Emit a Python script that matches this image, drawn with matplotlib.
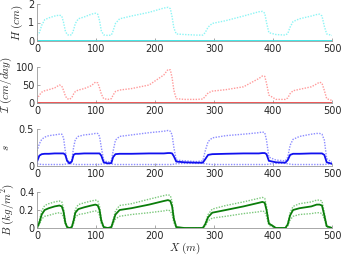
import matplotlib
matplotlib.use("Agg")
import matplotlib.pyplot as plt
import numpy as np

plt.rcParams["mathtext.fontset"] = "cm"

# Positions along the slope (m), shared by all profiles
x = [0, 4, 8, 13, 20, 30, 38, 42, 45, 48,
     51, 55, 59, 62, 65, 70, 80, 92, 99, 103,
     106, 109, 113, 120, 126, 129, 133, 140, 160, 190,
     215, 222, 226, 229, 232, 236, 250, 270, 281, 285,
     290, 297, 320, 350, 376, 382, 386, 389, 393, 405,
     421, 425, 429, 434, 445, 465, 474, 479, 483, 487,
     491, 500]

# Surface water height H (cm): max and min
H_max = [0.30, 0.45, 0.85, 1.15, 1.25, 1.35, 1.40, 1.35, 1.00, 0.55,
         0.35, 0.30, 0.35, 0.60, 0.95, 1.20, 1.30, 1.45, 1.50, 1.45,
         1.10, 0.55, 0.33, 0.30, 0.32, 0.55, 0.95, 1.20, 1.35, 1.55,
         1.78, 1.82, 1.75, 1.30, 0.70, 0.38, 0.35, 0.32, 0.32, 0.45,
         0.75, 0.95, 1.10, 1.35, 1.58, 1.60, 1.50, 1.00, 0.45, 0.35,
         0.32, 0.40, 0.75, 1.05, 1.20, 1.35, 1.43, 1.45, 1.35, 0.80,
         0.38, 0.30]
H_lo_x = [0, 500]
H_lo = [0.02, 0.02]

# Infiltration I (cm/day)
I_max = [10, 22, 30, 34, 37, 42, 50, 47, 35, 20,
         12, 10, 15, 25, 32, 36, 40, 48, 58, 56,
         42, 25, 12, 10, 12, 22, 32, 36, 40, 50,
         78, 93, 92, 70, 35, 12, 10, 10, 11, 18,
         28, 33, 37, 45, 68, 75, 74, 55, 22, 10,
         10, 14, 26, 34, 38, 45, 53, 58, 55, 35,
         12, 7]
I_lo_x = [0, 500]
I_lo = [1.0, 1.0]

# Soil moisture s: upper, mean, lower
s_max = [0.20, 0.30, 0.36, 0.39, 0.41, 0.42, 0.43, 0.43, 0.38, 0.20,
         0.08, 0.05, 0.08, 0.25, 0.36, 0.40, 0.42, 0.43, 0.44, 0.44,
         0.40, 0.25, 0.08, 0.05, 0.07, 0.20, 0.35, 0.40, 0.42, 0.45,
         0.47, 0.48, 0.47, 0.42, 0.25, 0.08, 0.07, 0.06, 0.07, 0.20,
         0.33, 0.38, 0.41, 0.43, 0.45, 0.46, 0.45, 0.35, 0.12, 0.08,
         0.07, 0.12, 0.28, 0.36, 0.40, 0.43, 0.44, 0.44, 0.43, 0.35,
         0.10, 0.05]
s_mean = [0.06, 0.14, 0.16, 0.165, 0.165, 0.17, 0.17, 0.17, 0.17, 0.15,
          0.07, 0.035, 0.06, 0.15, 0.165, 0.165, 0.17, 0.17, 0.17, 0.17,
          0.17, 0.14, 0.05, 0.035, 0.04, 0.12, 0.16, 0.165, 0.165, 0.17,
          0.17, 0.175, 0.175, 0.17, 0.13, 0.06, 0.05, 0.045, 0.045, 0.09,
          0.15, 0.16, 0.165, 0.17, 0.17, 0.175, 0.175, 0.16, 0.07, 0.05,
          0.045, 0.08, 0.15, 0.165, 0.165, 0.17, 0.17, 0.17, 0.17, 0.15,
          0.05, 0.03]
s_min = [0.03, 0.025, 0.02, 0.02, 0.02, 0.02, 0.02, 0.02, 0.02, 0.025,
         0.03, 0.03, 0.03, 0.025, 0.02, 0.02, 0.02, 0.02, 0.02, 0.02,
         0.02, 0.025, 0.03, 0.03, 0.03, 0.025, 0.02, 0.02, 0.02, 0.02,
         0.02, 0.02, 0.02, 0.02, 0.025, 0.03, 0.035, 0.035, 0.035, 0.03,
         0.025, 0.02, 0.02, 0.02, 0.02, 0.02, 0.02, 0.02, 0.025, 0.035,
         0.035, 0.03, 0.025, 0.02, 0.02, 0.02, 0.02, 0.02, 0.02, 0.02,
         0.025, 0.03]

# Biomass B (kg/m^2): upper, mean, lower
B_max = [0.0, 0.08, 0.19, 0.25, 0.27, 0.29, 0.30, 0.29, 0.22, 0.08,
         0.01, 0.0, 0.01, 0.10, 0.21, 0.26, 0.28, 0.30, 0.31, 0.30,
         0.24, 0.10, 0.01, 0.0, 0.01, 0.09, 0.19, 0.25, 0.27, 0.32,
         0.36, 0.37, 0.36, 0.29, 0.12, 0.01, 0.0, 0.0, 0.0, 0.05,
         0.15, 0.21, 0.25, 0.29, 0.33, 0.34, 0.33, 0.24, 0.06, 0.0,
         0.0, 0.05, 0.17, 0.24, 0.27, 0.29, 0.31, 0.31, 0.30, 0.17,
         0.02, 0.0]
B_mean = [0.0, 0.06, 0.15, 0.20, 0.22, 0.24, 0.25, 0.24, 0.18, 0.06,
          0.01, 0.0, 0.01, 0.08, 0.17, 0.21, 0.23, 0.25, 0.26, 0.25,
          0.20, 0.08, 0.01, 0.0, 0.01, 0.07, 0.15, 0.20, 0.22, 0.26,
          0.30, 0.31, 0.30, 0.24, 0.10, 0.01, 0.0, 0.0, 0.0, 0.04,
          0.12, 0.17, 0.20, 0.24, 0.28, 0.29, 0.28, 0.20, 0.05, 0.0,
          0.0, 0.04, 0.14, 0.20, 0.22, 0.24, 0.26, 0.26, 0.25, 0.14,
          0.02, 0.0]
B_min = [0.0, 0.04, 0.10, 0.13, 0.14, 0.16, 0.17, 0.16, 0.12, 0.04,
         0.01, 0.0, 0.01, 0.05, 0.12, 0.15, 0.16, 0.18, 0.19, 0.18,
         0.14, 0.05, 0.01, 0.0, 0.0, 0.05, 0.10, 0.13, 0.15, 0.17,
         0.19, 0.20, 0.19, 0.15, 0.06, 0.01, 0.0, 0.0, 0.0, 0.02,
         0.08, 0.11, 0.13, 0.16, 0.18, 0.19, 0.18, 0.13, 0.03, 0.0,
         0.0, 0.02, 0.09, 0.13, 0.15, 0.16, 0.17, 0.17, 0.16, 0.10,
         0.01, 0.0]

xticks = [0, 100, 200, 300, 400, 500]

fig = plt.figure(figsize=(3.41, 2.57), dpi=100)
W, Hpx = 341, 257
# (bottom px, top px) for each panel, measured from top of figure
rows = [(41, 4), (103, 67), (166, 129), (228, 192)]
axes = []
for bot, top in rows:
    ax = fig.add_axes([37 / W, 1 - bot / Hpx, 295 / W, (bot - top) / Hpx])
    axes.append(ax)

dot = (0, (1, 1))

ax = axes[0]
ax.plot(x, H_max, color="#8cf5f5", lw=1.0, ls=dot)
ax.plot(H_lo_x, H_lo, color="#2ee6e6", lw=1.3)
ax.set_ylim(0, 2)
ax.set_yticks([0, 1, 2])
ax.set_ylabel(r"$H\ (cm)$", labelpad=2)

ax = axes[1]
ax.plot(x, I_max, color="#ff9a9a", lw=1.0, ls=dot)
ax.plot(I_lo_x, I_lo, color="#e83a3a", lw=1.2)
ax.set_ylim(0, 100)
ax.set_yticks([0, 50, 100])
ax.set_ylabel(r"$\mathcal{I}\ (cm/day)$", labelpad=1)

ax = axes[2]
ax.plot(x, s_max, color="#8c8cff", lw=1.0, ls=dot)
ax.plot(x, s_min, color="#8c8cff", lw=1.0, ls=dot)
ax.plot(x, s_mean, color="#1010ee", lw=1.3)
ax.set_ylim(0, 0.5)
ax.set_yticks([0, 0.5])
ax.set_yticklabels(["0", "0.5"])
ax.set_ylabel(r"$s$", labelpad=6)

ax = axes[3]
ax.plot(x, B_max, color="#7cc87c", lw=1.0, ls=dot)
ax.plot(x, B_min, color="#7cc87c", lw=1.0, ls=dot)
ax.plot(x, B_mean, color="#0a7d0a", lw=1.3)
ax.set_ylim(0, 0.4)
ax.set_yticks([0, 0.2, 0.4])
ax.set_yticklabels(["0", "0.2", "0.4"])
ax.set_ylabel(r"$B\ (kg/m^2)$", labelpad=2)
ax.set_xlabel(r"$X\ (m)$", labelpad=0)

for ax in axes:
    ax.set_xlim(0, 500)
    ax.set_xticks(xticks)
    ax.set_xticklabels([str(t) for t in xticks])
    for side in ("top", "right"):
        ax.spines[side].set_visible(False)
    for side in ("left", "bottom"):
        ax.spines[side].set_color("#9a9a9a")
        ax.spines[side].set_linewidth(0.6)
    ax.tick_params(direction="in", length=2, width=0.6, color="#9a9a9a",
                   labelsize=7, labelcolor="#262626", pad=2)
    ax.yaxis.label.set_size(8)
    ax.yaxis.label.set_color("#262626")
    ax.set_facecolor("none")
axes[3].xaxis.label.set_size(8)
axes[3].xaxis.label.set_color("#262626")

fig.savefig("out.png", dpi=100)
